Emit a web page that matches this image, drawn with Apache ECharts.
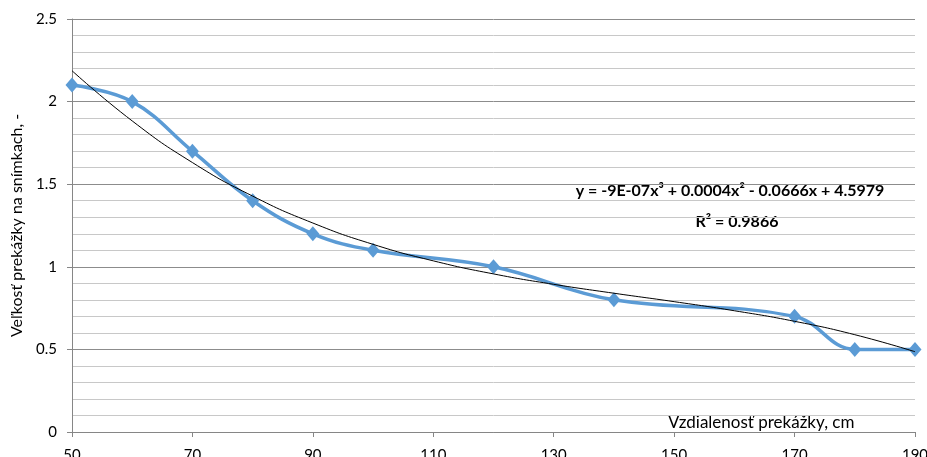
<!DOCTYPE html>
<html>
<head>
<meta charset="utf-8">
<script src="https://cdn.jsdelivr.net/npm/echarts@6/dist/echarts.min.js"></script>
<style>
html,body{margin:0;padding:0;background:#fff;}
#chart{width:927px;height:457px;}
</style>
</head>
<body>
<div id="chart"></div>
<script>
// namerané body
var vzdialenost = [50, 60, 70, 80, 90, 100, 120, 140, 170, 180, 190];
var velkost = [2.1, 2.0, 1.7, 1.4, 1.2, 1.1, 1.0, 0.8, 0.7, 0.5, 0.5];
// polynomicky trend (odcitane z obrazka)
var trendX = [50, 60, 70, 80, 90, 100, 110, 120, 130, 140, 150, 160, 170, 180, 190];
var trendY = [2.187, 1.883, 1.631, 1.428, 1.265, 1.136, 1.036, 0.957, 0.894, 0.840, 0.789, 0.734, 0.670, 0.589, 0.486];
var rovnica = 'y = -9E-07x³ + 0.0004x² - 0.0666x + 4.5979';
var rKvadrat = 'R² = 0.9866';
var nazovX = 'Vzdialenosť prekážky, cm';
var nazovY = 'Veľkosť prekážky na snímkach, -';

var pismo = 'Lato, "Open Sans", sans-serif';

function pary(xs, ys)
{
	var res = [];
	for (var i = 0; i < xs.length; i++) res.push([xs[i], ys[i]]);
	return res;
}

var mychart = echarts.init(document.getElementById('chart'));
var option = {
	backgroundColor: '#fff',
	animation: false,
	grid: { left: 72, right: 12, top: 19, bottom: 25, containLabel: false, outerBoundsMode: 'none' },
	xAxis: {
		type: 'value',
		min: 50, max: 190, interval: 20,
		axisLine: { show: true, lineStyle: { color: '#868686', width: 1 } },
		axisTick: { show: true, length: 5, lineStyle: { color: '#868686' } },
		axisLabel: { color: '#000', fontFamily: pismo, fontSize: 15, margin: 16 },
		splitLine: { show: false }
	},
	yAxis: {
		type: 'value',
		min: 0, max: 2.5, interval: 0.5,
		name: nazovY,
		nameLocation: 'middle',
		nameGap: 47,
		nameTextStyle: { color: '#000', fontFamily: pismo, fontSize: 16 },
		axisLine: { show: true, lineStyle: { color: '#868686', width: 1 } },
		axisTick: { show: true, length: 5, lineStyle: { color: '#868686' } },
		axisLabel: { color: '#000', fontFamily: pismo, fontSize: 15, margin: 15 },
		splitLine: { show: true, lineStyle: { color: '#8c8c8c', width: 1 } },
		minorTick: { show: false, splitNumber: 5 },
		minorSplitLine: { show: true, lineStyle: { color: '#c8c8c8', width: 1 } }
	},
	graphic: [
		{ type: 'text', x: 668, y: 423, style: { text: nazovX, fill: '#000', font: '17px ' + pismo, verticalAlign: 'middle' } },
		{ type: 'text', x: 730, y: 191, style: { text: rovnica, fill: '#000', font: 'bold 16px ' + pismo, align: 'center', verticalAlign: 'middle' } },
		{ type: 'text', x: 737, y: 222, style: { text: rKvadrat, fill: '#000', font: 'bold 16px ' + pismo, align: 'center', verticalAlign: 'middle' } }
	],
	series: [
		{
			name: 'merania',
			type: 'line',
			data: pary(vzdialenost, velkost),
			smooth: 0.4,
			symbol: 'diamond',
			symbolSize: [13, 15],
			lineStyle: { color: '#5B9BD5', width: 3.5 },
			itemStyle: { color: '#5B9BD5' },
			z: 3
		},
		{
			name: 'trend',
			type: 'line',
			data: pary(trendX, trendY),
			smooth: true,
			symbol: 'none',
			lineStyle: { color: '#000', width: 1 },
			z: 4
		}
	]
};
mychart.setOption(option);
</script>
</body>
</html>
